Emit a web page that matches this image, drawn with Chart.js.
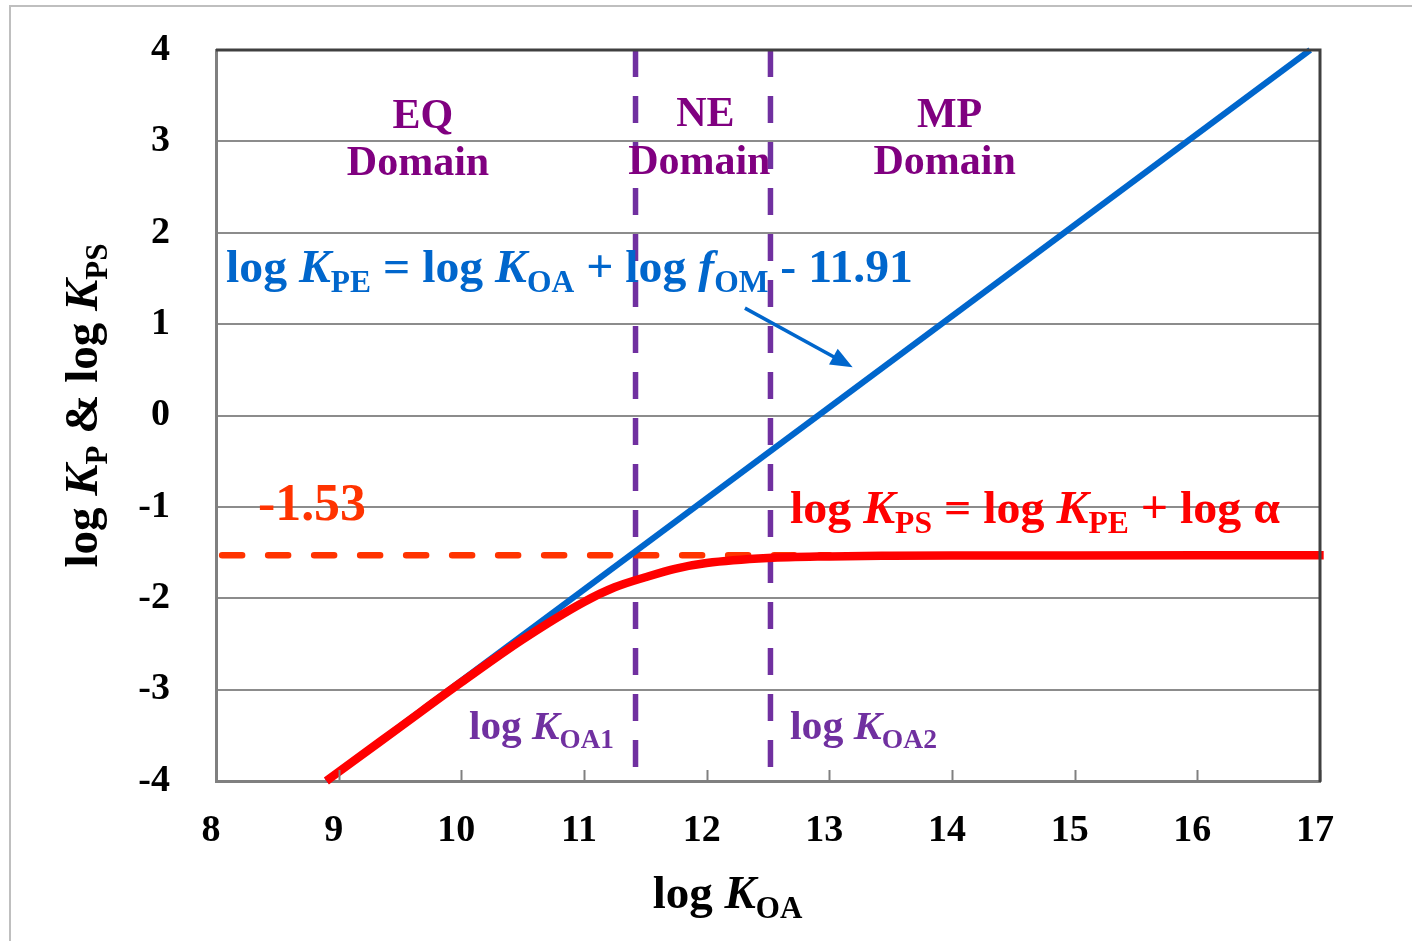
<!DOCTYPE html>
<html><head><meta charset="utf-8">
<script src="https://cdn.jsdelivr.net/npm/chart.js@4"></script>
<style>html,body{margin:0;padding:0;background:#fff}#wrap{width:1412px;height:941px}</style>
</head><body><div id="wrap"><canvas id="c" width="1412" height="941"></canvas></div>
<script>
// ---- data ----
const xTicks = [8, 9, 10, 11, 12, 13, 14, 15, 16, 17];
const yTicks = [-4, -3, -2, -1, 0, 1, 2, 3, 4];
const blueX = [8.9, 16.92];
const blueY = [-4, 4];
const redX = [8.9, 9, 9.5, 10, 10.5, 11, 11.25, 11.5, 11.75, 12, 12.5, 13, 13.5, 14, 15, 17.03];
const redY = [-4, -3.9, -3.41, -2.92, -2.45, -2.04, -1.88, -1.77, -1.675, -1.615, -1.56, -1.542, -1.535, -1.532, -1.531, -1.53];
const plateauX = [8.05, 13];
const plateauY = [-1.53, -1.53];
const koaBounds = [11.42, 12.52];
const boundY = [4, -4];

const FONT = '"Liberation Serif", "Times New Roman", serif';
const pts = (xs, ys) => xs.map((x, i) => ({x, y: ys[i]}));

// rich text helpers
function segFont(s, size) {
  const sz = s.sub ? size * 0.66 : size;
  return (s.i ? 'italic ' : '') + 'bold ' + sz + 'px ' + FONT;
}
function richWidth(ctx, segs, size) {
  let w = 0;
  for (const s of segs) { ctx.font = segFont(s, size); w += ctx.measureText(s.t).width; }
  return w;
}
function drawRich(ctx, segs, x, y, size, color, align, fit) {
  const w = richWidth(ctx, segs, size);
  const sx = fit ? fit / w : 1;
  ctx.save();
  ctx.translate(x, y);
  ctx.scale(sx, 1);
  ctx.fillStyle = color;
  ctx.textBaseline = 'alphabetic';
  ctx.textAlign = 'left';
  let cx = align === 'center' ? -w / 2 : 0;
  for (const s of segs) {
    ctx.font = segFont(s, size);
    ctx.fillText(s.t, cx, s.sub ? size * 0.22 : 0);
    cx += ctx.measureText(s.t).width;
  }
  ctx.restore();
}

const PURPLE = '#800080', VIOLET = '#7030A0', BLUE = '#0066CC', RED = '#FF0000', ORANGE = '#FF3300';
const notes = [
  {x: 9.687, y: 3.146, size: 42, color: PURPLE, align: 'center', segs: [{t: 'EQ'}]},
  {x: 9.647, y: 2.632, size: 42, color: PURPLE, align: 'center', segs: [{t: 'Domain'}]},
  {x: 11.99, y: 3.17, size: 42, color: PURPLE, align: 'center', segs: [{t: 'NE'}]},
  {x: 11.94, y: 2.645, size: 42, color: PURPLE, align: 'center', segs: [{t: 'Domain'}]},
  {x: 13.98, y: 3.16, size: 42, color: PURPLE, align: 'center', segs: [{t: 'MP'}]},
  {x: 13.94, y: 2.645, size: 42, color: PURPLE, align: 'center', segs: [{t: 'Domain'}]},
  {x: 8.0815, y: 1.461, size: 47, color: BLUE, align: 'left', fit: 687,
   segs: [{t: 'log '}, {t: 'K', i: true}, {t: 'PE', sub: true}, {t: ' = log '}, {t: 'K', i: true}, {t: 'OA', sub: true},
          {t: ' + log '}, {t: 'f', i: true}, {t: 'OM', sub: true}, {t: ' - 11.91'}]},
  {x: 12.679, y: -1.171, size: 47, color: RED, align: 'left', fit: 490,
   segs: [{t: 'log '}, {t: 'K', i: true}, {t: 'PS', sub: true}, {t: ' = log '}, {t: 'K', i: true}, {t: 'PE', sub: true}, {t: ' + log α'}]},
  {x: 8.342, y: -1.144, size: 53, color: ORANGE, align: 'left', fit: 108, segs: [{t: '-1.53'}]},
  {x: 10.062, y: -3.54, size: 40, color: VIOLET, align: 'left', fit: 145,
   segs: [{t: 'log '}, {t: 'K', i: true}, {t: 'OA1', sub: true}]},
  {x: 12.679, y: -3.54, size: 40, color: VIOLET, align: 'left', fit: 147,
   segs: [{t: 'log '}, {t: 'K', i: true}, {t: 'OA2', sub: true}]},
];
const arrow = {from: [12.312, 1.175], to: [13.19, 0.529]};
const xTitlePos = 12.17;

const decor = {
  id: 'decor',
  beforeDraw(chart) {
    const ctx = chart.ctx;
    ctx.save();
    ctx.fillStyle = '#fff';
    ctx.fillRect(0, 0, chart.width, chart.height);
    ctx.strokeStyle = '#BFBFBF';
    ctx.lineWidth = 2;
    ctx.strokeRect(10, 6, 1600, 1200);
    ctx.restore();
  },
  afterDraw(chart) {
    const ctx = chart.ctx, xs = chart.scales.x, ys = chart.scales.y, a = chart.chartArea;
    ctx.save();
    // inward x ticks
    ctx.strokeStyle = '#808080';
    ctx.lineWidth = 2;
    for (const v of xTicks) {
      const px = Math.round(xs.getPixelForValue(v)) + 0.5;
      ctx.beginPath(); ctx.moveTo(px, a.bottom); ctx.lineTo(px, a.bottom - 11); ctx.stroke();
    }
    // top & right dark border
    ctx.strokeStyle = '#404040';
    ctx.lineWidth = 3;
    ctx.beginPath();
    ctx.moveTo(a.left, a.top); ctx.lineTo(a.right, a.top); ctx.lineTo(a.right, a.bottom + 1);
    ctx.stroke();
    // arrow
    const x1 = xs.getPixelForValue(arrow.from[0]), y1 = ys.getPixelForValue(arrow.from[1]);
    const x2 = xs.getPixelForValue(arrow.to[0]), y2 = ys.getPixelForValue(arrow.to[1]);
    const ang = Math.atan2(y2 - y1, x2 - x1);
    ctx.strokeStyle = BLUE; ctx.fillStyle = BLUE; ctx.lineWidth = 3.5;
    ctx.beginPath(); ctx.moveTo(x1, y1);
    ctx.lineTo(x2 - 14 * Math.cos(ang), y2 - 14 * Math.sin(ang)); ctx.stroke();
    ctx.beginPath();
    ctx.moveTo(x2, y2);
    ctx.lineTo(x2 - 22 * Math.cos(ang) + 9 * Math.sin(ang), y2 - 22 * Math.sin(ang) - 9 * Math.cos(ang));
    ctx.lineTo(x2 - 22 * Math.cos(ang) - 9 * Math.sin(ang), y2 - 22 * Math.sin(ang) + 9 * Math.cos(ang));
    ctx.closePath(); ctx.fill();
    // annotations
    for (const n of notes) {
      drawRich(ctx, n.segs, xs.getPixelForValue(n.x), ys.getPixelForValue(n.y), n.size, n.color, n.align, n.fit);
    }
    // axis titles
    drawRich(ctx, [{t: 'log '}, {t: 'K', i: true}, {t: 'OA', sub: true}], xs.getPixelForValue(xTitlePos), 908, 47, '#000', 'center');
    ctx.save();
    ctx.translate(97, (a.top + a.bottom) / 2 - 10);
    ctx.rotate(-Math.PI / 2);
    drawRich(ctx, [{t: 'log '}, {t: 'K', i: true}, {t: 'P', sub: true}, {t: ' & log '}, {t: 'K', i: true}, {t: 'PS', sub: true}], 0, 0, 47, '#000', 'center');
    ctx.restore();
    ctx.restore();
  }
};

new Chart(document.getElementById('c'), {
  type: 'scatter',
  data: {
    datasets: [
      {data: pts(redX, redY), showLine: true, borderColor: RED, borderWidth: 8.5, pointRadius: 0,
       cubicInterpolationMode: 'monotone', order: 1, clip: {left: 5, right: 10, top: 5, bottom: 6}},
      {data: pts(blueX, blueY), showLine: true, borderColor: BLUE, borderWidth: 6, pointRadius: 0, order: 2,
       clip: {left: 5, right: 5, top: 4, bottom: 5}},
      {data: pts(plateauX, plateauY), showLine: true, borderColor: ORANGE, borderWidth: 6.5, pointRadius: 0,
       borderDash: [20, 26], borderCapStyle: 'round', order: 3},
      {data: pts([koaBounds[0], koaBounds[0]], boundY), showLine: true, borderColor: VIOLET, borderWidth: 5.5,
       pointRadius: 0, borderDash: [27, 19], borderCapStyle: 'butt', order: 4},
      {data: pts([koaBounds[1], koaBounds[1]], boundY), showLine: true, borderColor: VIOLET, borderWidth: 5.5,
       pointRadius: 0, borderDash: [27, 19], borderCapStyle: 'butt', order: 5},
    ]
  },
  options: {
    responsive: false,
    devicePixelRatio: 1,
    animation: false,
    events: [],
    layout: {padding: {top: 50, right: 92, left: 0, bottom: 0}},
    plugins: {legend: {display: false}, tooltip: {enabled: false}, title: {display: false}},
    scales: {
      x: {
        type: 'linear', min: xTicks[0], max: xTicks[xTicks.length - 1],
        afterFit: s => { s.height = 160; s.paddingLeft = 0; s.paddingRight = 0; },
        afterBuildTicks: s => { s.ticks = xTicks.map(v => ({value: v})); },
        ticks: {color: '#000', font: {family: FONT, size: 38, weight: 'bold'}, padding: 27, labelOffset: -5,
                autoSkip: false, maxRotation: 0},
        grid: {display: true, drawOnChartArea: false, drawTicks: false},
        border: {display: true, color: '#808080', width: 3}
      },
      y: {
        type: 'linear', min: yTicks[0], max: yTicks[yTicks.length - 1],
        afterFit: s => { s.width = 216; s.paddingTop = 0; s.paddingBottom = 0; },
        afterBuildTicks: s => { s.ticks = yTicks.map(v => ({value: v})); },
        ticks: {color: '#000', font: {family: FONT, size: 38, weight: 'bold'}, padding: 46, autoSkip: false},
        grid: {color: '#8C8C8C', lineWidth: 2, drawTicks: false},
        border: {display: true, color: '#808080', width: 3}
      }
    }
  },
  plugins: [decor]
});
</script>
</body></html>
